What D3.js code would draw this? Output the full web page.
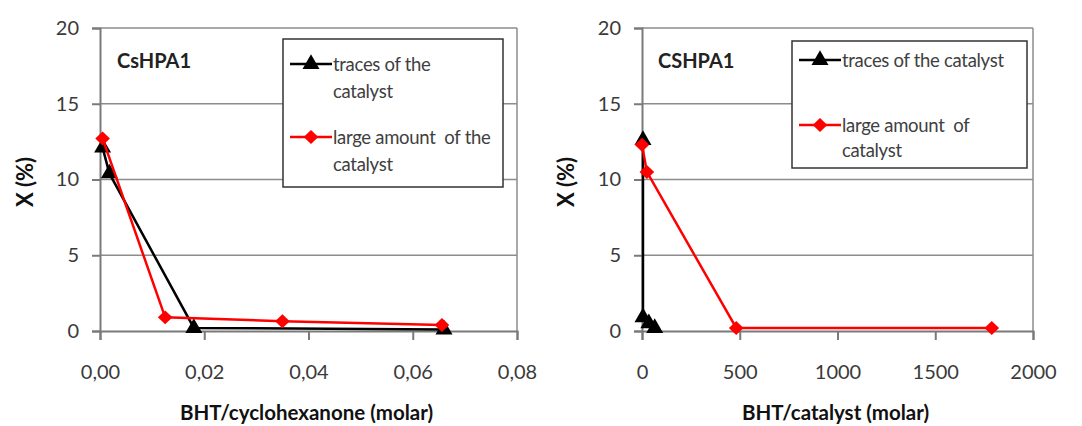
<!DOCTYPE html>
<html><head><meta charset="utf-8">
<script src="https://cdn.jsdelivr.net/npm/d3@7"></script>
<style>
body{margin:0;background:#fff;}
svg{display:block;}
text{font-family:Lato,"Open Sans",sans-serif;white-space:pre;}
</style></head>
<body><svg id="c" width="1082" height="426"></svg>
<script>
// ---- data ----
const yTicks = [0, 5, 10, 15, 20];
// left panel: BHT/cyclohexanone (molar)
const leftXTicks = [0, 0.02, 0.04, 0.06, 0.08];
const leftTracesX = [0.0005, 0.0018, 0.018, 0.066];
const leftTracesY = [12.1, 10.4, 0.2, 0.1];
const leftLargeX = [0.0005, 0.0125, 0.035, 0.0656];
const leftLargeY = [12.7, 0.9, 0.65, 0.4];
// right panel: BHT/catalyst (molar)
const rightXTicks = [0, 500, 1000, 1500, 2000];
const rightTracesX = [5, 5, 35, 65];
const rightTracesY = [12.6, 0.9, 0.5, 0.2];
const rightLargeX = [0, 25, 482, 1789];
const rightLargeY = [12.3, 10.5, 0.2, 0.2];

const svg = d3.select("#c");
const fmtComma = d => d3.format(".2f")(d).replace(".", ",");

// wide diamond (rotated square)
const wideDiamond = { draw(ctx, size){ const r = Math.sqrt(size)/1.6; ctx.moveTo(0,-r); ctx.lineTo(r*1.05,0); ctx.lineTo(0,r); ctx.lineTo(-r*1.05,0); ctx.closePath(); } };

function panel(o){
  const g = svg.append("g");
  const x = d3.scaleLinear().domain([o.xTicks[0], o.xTicks[o.xTicks.length-1]]).range([o.x0, o.x1]);
  const y = d3.scaleLinear().domain([0, 20]).range([331, 28]);
  // gridlines
  g.append("g").selectAll("line").data(yTicks.filter(d=>d>0)).join("line")
    .attr("x1", o.x0).attr("x2", o.x1).attr("y1", d=>y(d)).attr("y2", d=>y(d))
    .attr("stroke", "#8c8c8c").attr("stroke-width", 1.5);
  // frame right
  g.append("line").attr("x1", o.x1).attr("x2", o.x1).attr("y1", y(20)).attr("y2", y(0))
    .attr("stroke", "#8c8c8c").attr("stroke-width", 1.5);
  // y axis
  const ya = g.append("g").attr("transform", `translate(${o.x0},0)`)
    .call(d3.axisLeft(y).tickValues(yTicks).tickSize(8).tickPadding(13));
  // x axis
  const xa = g.append("g").attr("transform", `translate(0,${y(0)})`)
    .call(d3.axisBottom(x).tickValues(o.xTicks).tickFormat(o.fmt).tickSize(9).tickPadding(25));
  [ya, xa].forEach(a=>{
    a.select(".domain").attr("stroke", "#7a7a7a").attr("stroke-width", 2);
    a.selectAll(".tick line").attr("stroke", "#7a7a7a").attr("stroke-width", 2);
    a.selectAll(".tick text").attr("fill", "#3a3a3a").attr("font-size", 20).attr("font-family", "Lato");
  });
  // axis titles
  g.append("text").attr("x", (o.x0+o.x1)/2 - 2).attr("y", 420).attr("text-anchor", "middle")
    .attr("font-size", 20.5).attr("font-weight", "bold").attr("fill", "#111").text(o.xTitle);
  g.append("text").attr("transform", `translate(${o.ytx},182) rotate(-90)`).attr("text-anchor", "middle")
    .attr("dominant-baseline", "central")
    .attr("font-size", 22).attr("font-weight", "bold").attr("fill", "#111").text("X (%)");
  // panel label
  g.append("text").attr("x", o.labX).attr("y", 68).attr("font-size", 20).attr("font-weight", "bold")
    .attr("fill", "#222").text(o.label);
  // series
  const line = d3.line().x(d=>x(d[0])).y(d=>y(d[1]));
  const tri = d3.symbol().type(d3.symbolTriangle).size(125);
  const dia = d3.symbol().type(wideDiamond).size(125);
  const tr = o.tX.map((v,i)=>[v, o.tY[i]]);
  const lg = o.lX.map((v,i)=>[v, o.lY[i]]);
  const series = [[tr,"#000",tri],[lg,"#ff0000",dia]];
  series.forEach(([data, col, sym])=>{
    g.append("path").attr("d", line(data)).attr("fill", "none").attr("stroke", col).attr("stroke-width", 2.5);
    g.append("g").selectAll("path").data(data).join("path")
      .attr("transform", d=>`translate(${x(d[0])},${y(d[1])})`).attr("d", sym).attr("fill", col);
  });
  // legend
  const L = o.leg;
  g.append("rect").attr("x", L.x).attr("y", L.y).attr("width", L.w).attr("height", L.h)
    .attr("fill", "#fff").attr("stroke", "#333").attr("stroke-width", 1.5);
  L.items.forEach(it=>{
    g.append("line").attr("x1", L.x+7).attr("x2", L.x+49).attr("y1", it.y).attr("y2", it.y)
      .attr("stroke", it.col).attr("stroke-width", 2.5);
    g.append("path").attr("transform", `translate(${L.x+28},${it.y})`)
      .attr("d", it.col === "#000" ? tri() : dia()).attr("fill", it.col);
    it.lines.forEach((t,j)=>{
      g.append("text").attr("x", L.x+50).attr("y", it.y + j*L.lh).attr("dominant-baseline", "central")
        .attr("font-size", 18.5).attr("letter-spacing", -0.3).attr("fill", "#404040").text(t);
    });
  });
}

panel({x0:100, x1:517, xTicks:leftXTicks, fmt:fmtComma, xTitle:"BHT/cyclohexanone (molar)", ytx:24,
  label:"CsHPA1", labX:117, tX:leftTracesX, tY:leftTracesY, lX:leftLargeX, lY:leftLargeY,
  leg:{x:283, y:39, w:220, h:148, lh:27, items:[
    {col:"#000", y:64, lines:["traces of the","catalyst"]},
    {col:"#ff0000", y:137, lines:["large amount  of the","catalyst"]}]}});

panel({x0:642, x1:1033, xTicks:rightXTicks, fmt:d3.format("d"), xTitle:"BHT/catalyst (molar)", ytx:565,
  label:"CSHPA1", labX:658, tX:rightTracesX, tY:rightTracesY, lX:rightLargeX, lY:rightLargeY,
  leg:{x:792, y:41, w:235, h:127, lh:25, items:[
    {col:"#000", y:60, lines:["traces of the catalyst"]},
    {col:"#ff0000", y:125, lines:["large amount  of","catalyst"]}]}});
</script></body></html>
